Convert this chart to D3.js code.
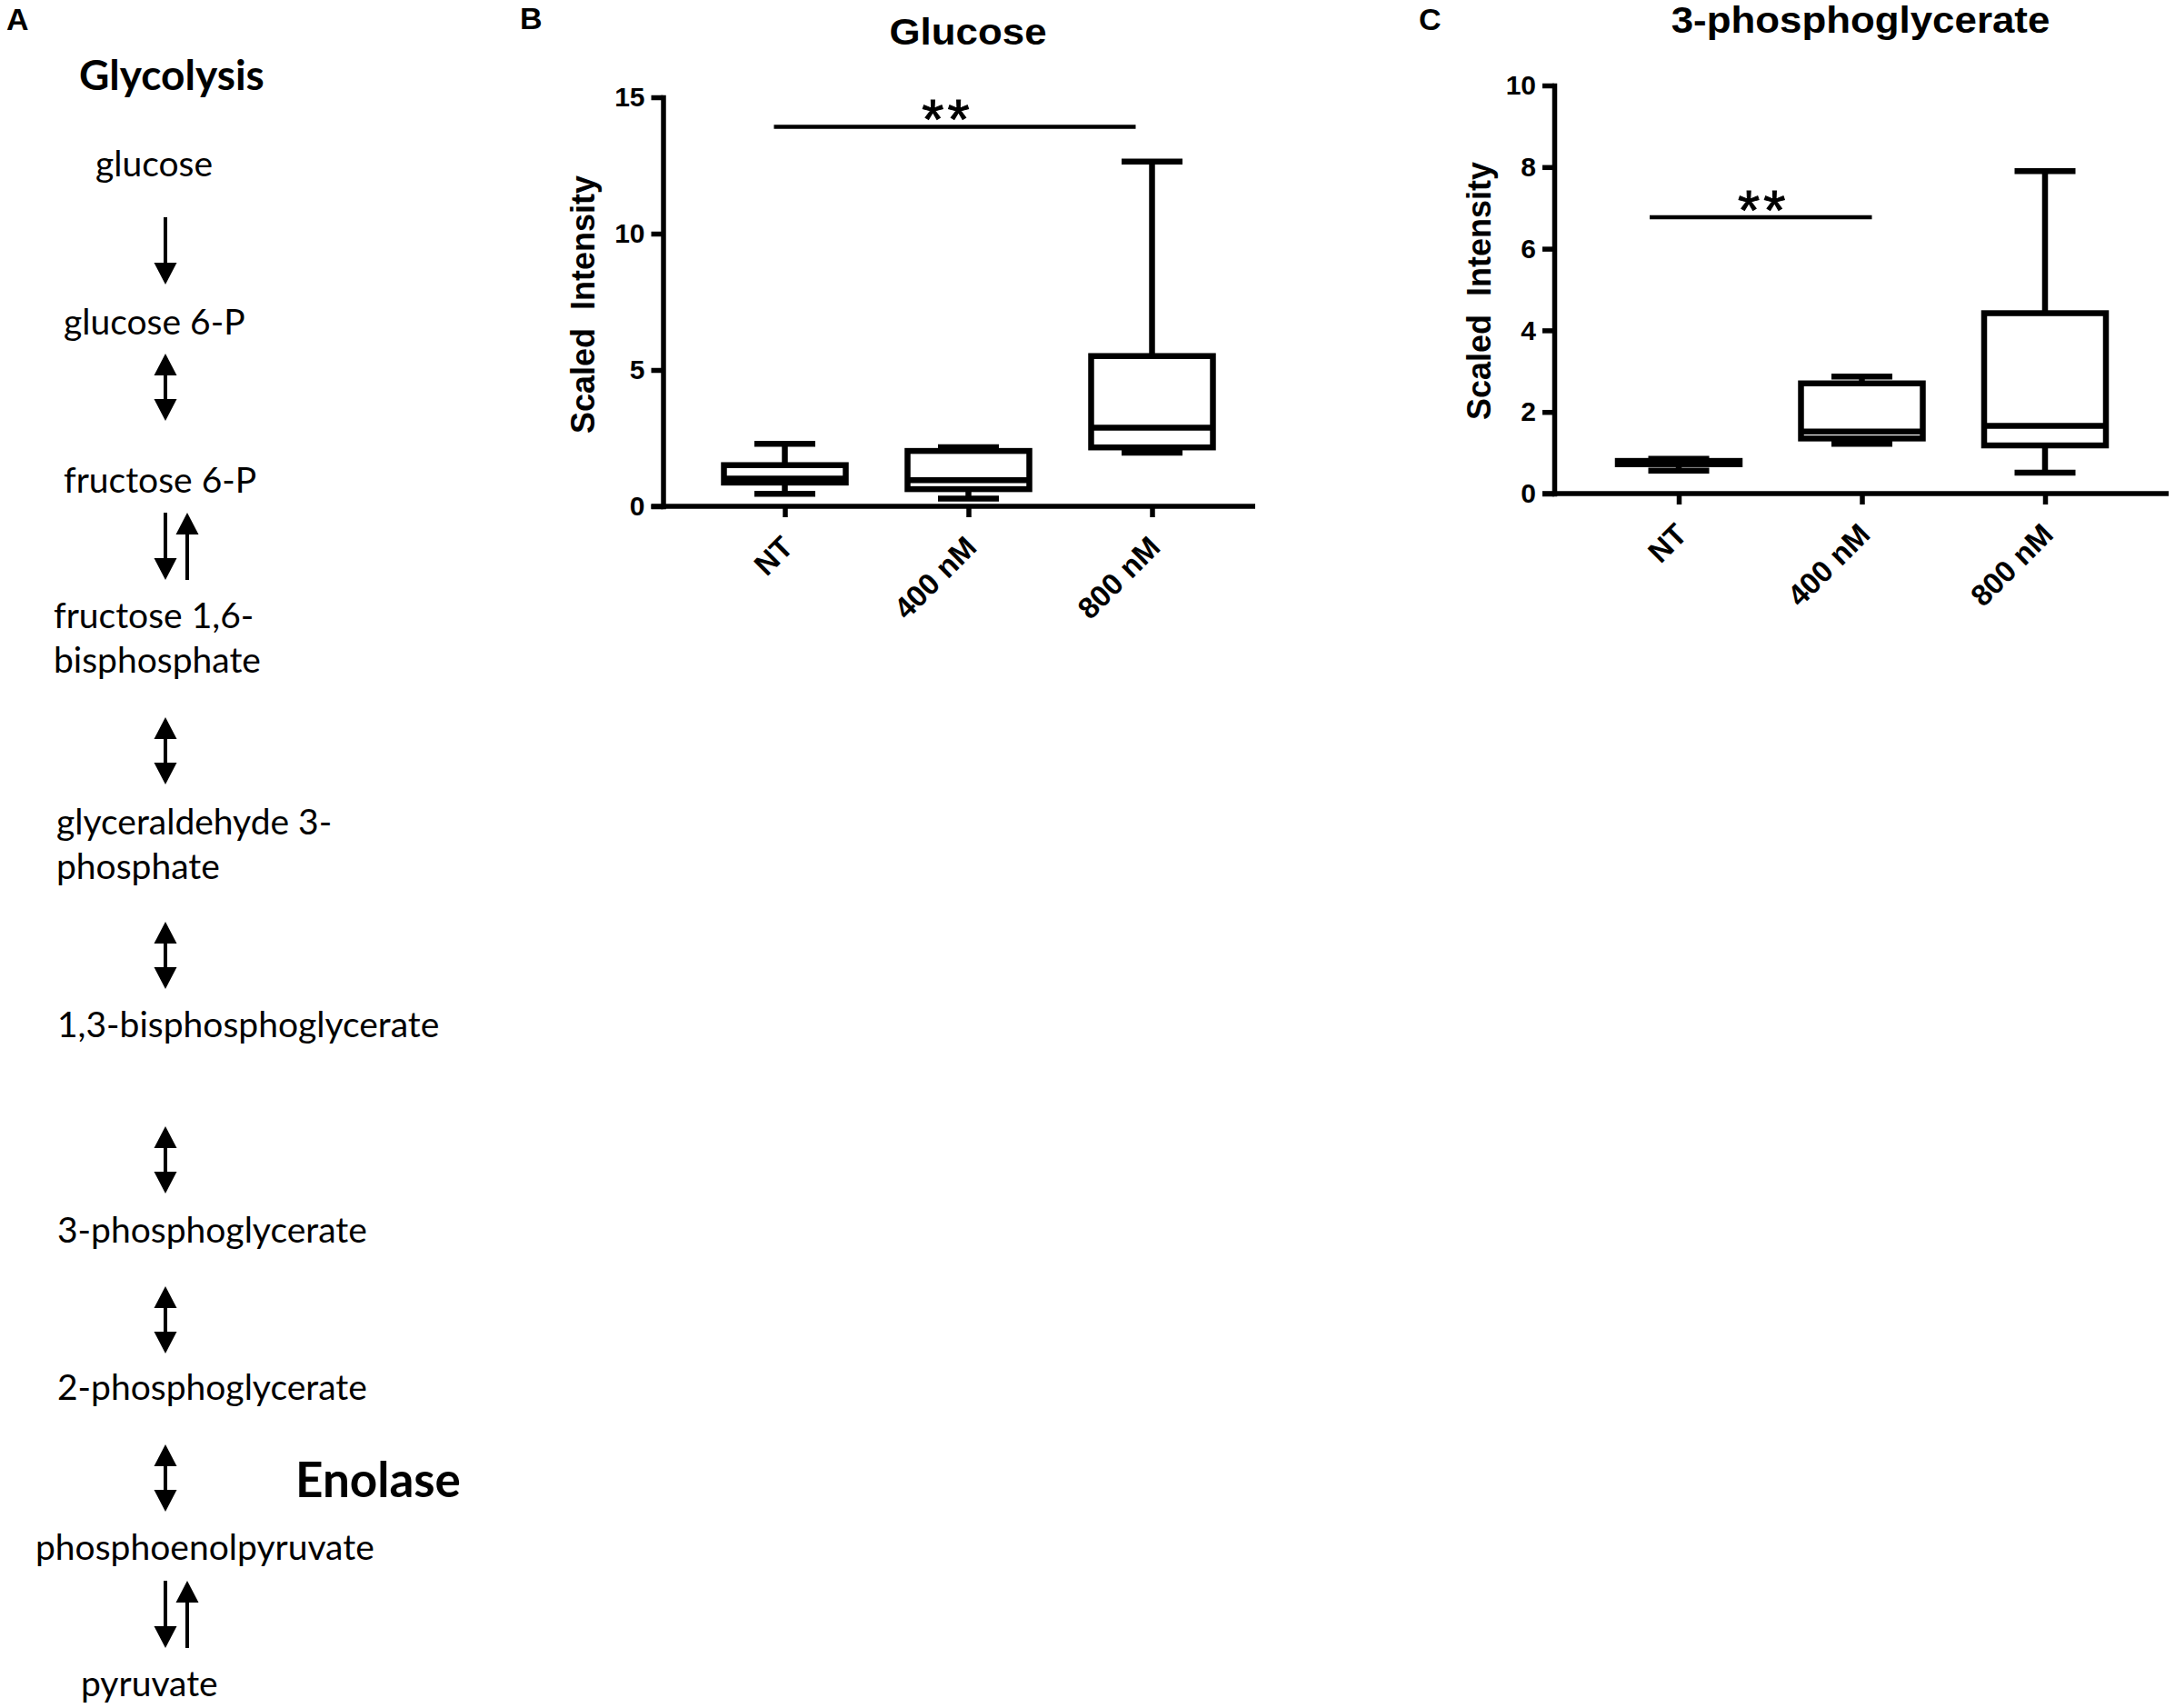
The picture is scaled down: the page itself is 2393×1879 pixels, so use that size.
<!DOCTYPE html>
<html><head><meta charset="utf-8">
<script src="https://cdn.jsdelivr.net/npm/d3@7"></script>
<style>html,body{margin:0;padding:0;background:#fff;overflow:hidden}</style>
</head><body>
<svg id="chart" width="2393" height="1879"></svg>
<script>
// ---------------- data ----------------
const categories = ["NT", "400 nM", "800 nM"];

// Panel B: Glucose (box-and-whisker summary, min..max)
const glucoseMin    = [0.46, 0.28, 1.97];
const glucoseQ1     = [0.87, 0.63, 2.16];
const glucoseMedian = [1.02, 0.96, 2.88];
const glucoseQ3     = [1.51, 2.03, 5.51];
const glucoseMax    = [2.29, 2.17, 12.64];
const glucoseTicks  = [0, 5, 10, 15];
const glucoseSig    = ["NT", "800 nM", 13.92, "**"];

// Panel C: 3-phosphoglycerate
const pgMin    = [0.56, 1.22, 0.51];
const pgQ1     = [0.72, 1.35, 1.18];
const pgMedian = [0.76, 1.52, 1.66];
const pgQ3     = [0.80, 2.70, 4.42];
const pgMax    = [0.85, 2.87, 7.90];
const pgTicks  = [0, 2, 4, 6, 8, 10];
const pgSig    = ["NT", "400 nM", 6.77, "**"];

// Panel A: glycolysis pathway
const metabolites = [
  ["glucose"], ["glucose 6-P"], ["fructose 6-P"], ["fructose 1,6-", "bisphosphate"],
  ["glyceraldehyde 3-", "phosphate"], ["1,3-bisphosphoglycerate"], ["3-phosphoglycerate"],
  ["2-phosphoglycerate"], ["phosphoenolpyruvate"], ["pyruvate"]
];
const reactionTypes = ["down", "both", "pair", "both", "both", "both", "both", "both", "pair"];

// ---------------- drawing ----------------
const svg = d3.select("#chart");
svg.append("rect").attr("width", 2393).attr("height", 1879).attr("fill", "#fff");
const ARIAL = "'Liberation Sans', Arial, Helvetica, sans-serif";
const CAL = "Lato, Carlito, Calibri, sans-serif";

// panel letters
[["A", 7, 33], ["B", 572, 32], ["C", 1561, 33]].forEach(([t, x, y]) => {
  svg.append("text").attr("x", x).attr("y", y).text(t)
    .attr("font-family", ARIAL).attr("font-weight", "bold").attr("font-size", 34);
});

function boxPanel(o) {
  const g = svg.append("g");
  const y = d3.scaleLinear().domain([0, o.ticks[o.ticks.length - 1]]).range([o.y0, o.yTop]);
  const x = d3.scalePoint().domain(categories).range([o.axisX + o.firstOff, o.axisX + o.firstOff + 2 * o.step]);
  const BW = 134, CW = 67, SW = 6.5;

  // y axis
  const ya = g.append("g").attr("transform", `translate(${o.axisX},0)`)
    .call(d3.axisLeft(y).tickValues(o.ticks).tickSize(13).tickSizeOuter(0).tickPadding(7).tickFormat(d3.format("d")));
  ya.select(".domain").attr("stroke", "#000").attr("stroke-width", 5.5).attr("stroke-linecap", "square");
  ya.selectAll(".tick line").attr("stroke", "#000").attr("stroke-width", 5.5);
  ya.selectAll(".tick text").attr("font-family", ARIAL).attr("font-weight", "bold")
    .attr("font-size", 30).attr("fill", "#000");

  // x axis
  const xa = g.append("g").attr("transform", `translate(0,${o.y0})`)
    .call(d3.axisBottom(x).tickSize(12).tickSizeOuter(0).tickFormat(""));
  xa.select(".domain").remove();
  xa.selectAll(".tick line").attr("stroke", "#000").attr("stroke-width", 5.5);
  g.append("line").attr("x1", o.axisX - 13).attr("x2", o.axisEnd)
    .attr("y1", o.y0).attr("y2", o.y0).attr("stroke", "#000").attr("stroke-width", 5.5);
  categories.forEach(c => {
    g.append("text").text(c)
      .attr("transform", `translate(${x(c) + 11},${o.y0 + 47}) rotate(-45)`)
      .attr("text-anchor", "end").attr("font-family", ARIAL).attr("font-weight", "bold")
      .attr("font-size", 33);
  });

  // boxes
  categories.forEach((c, i) => {
    const cx = x(c);
    const bg = g.append("g").attr("fill", "none").attr("stroke", "#000").attr("stroke-width", SW);
    bg.append("line").attr("x1", cx).attr("x2", cx).attr("y1", y(o.q3[i])).attr("y2", y(o.max[i]));
    bg.append("line").attr("x1", cx).attr("x2", cx).attr("y1", y(o.q1[i])).attr("y2", y(o.min[i]));
    bg.append("line").attr("x1", cx - CW / 2).attr("x2", cx + CW / 2).attr("y1", y(o.max[i])).attr("y2", y(o.max[i]));
    bg.append("line").attr("x1", cx - CW / 2).attr("x2", cx + CW / 2).attr("y1", y(o.min[i])).attr("y2", y(o.min[i]));
    bg.append("rect").attr("x", cx - BW / 2).attr("width", BW)
      .attr("y", y(o.q3[i])).attr("height", y(o.q1[i]) - y(o.q3[i])).attr("fill", "#fff");
    bg.append("line").attr("x1", cx - BW / 2).attr("x2", cx + BW / 2)
      .attr("y1", y(o.med[i])).attr("y2", y(o.med[i]));
  });

  // significance
  const [from, to, val, lab] = o.sig;
  const sy = y(val), sx1 = x(from) + o.sigOff[0], sx2 = x(to) + o.sigOff[1];
  g.append("line").attr("x1", sx1).attr("x2", sx2).attr("y1", sy).attr("y2", sy)
    .attr("stroke", "#000").attr("stroke-width", 4.5);
  g.append("text").text(lab).attr("x", (sx1 + sx2) / 2 + o.starDx).attr("y", sy - 22 + 35)
    .attr("text-anchor", "middle").attr("font-family", ARIAL).attr("font-size", 62)
    .attr("stroke", "#000").attr("stroke-width", 1).attr("letter-spacing", 4);

  // title (slightly wide, as in the reference)
  g.append("text").text(o.title)
    .attr("transform", `translate(${o.titleX},${o.titleY}) scale(1.07,1)`)
    .attr("text-anchor", "middle").attr("font-family", ARIAL).attr("font-weight", "bold").attr("font-size", 41);
  // y label
  g.append("text").text("Scaled  Intensity").style("white-space", "pre")
    .attr("transform", `translate(${o.ylabX},${o.ylabY}) rotate(-90)`)
    .attr("text-anchor", "middle").attr("font-family", ARIAL).attr("font-weight", "bold").attr("font-size", 36);
}

boxPanel({
  axisX: 729.5, axisEnd: 1381, y0: 557, yTop: 107, firstOff: 134, step: 202,
  ticks: glucoseTicks, min: glucoseMin, q1: glucoseQ1, med: glucoseMedian, q3: glucoseQ3, max: glucoseMax,
  sig: glucoseSig, sigOff: [-12, -18], starDx: -8,
  title: "Glucose", titleX: 1065, titleY: 49, ylabX: 654, ylabY: 335
});
boxPanel({
  axisX: 1710, axisEnd: 2386, y0: 543, yTop: 94, firstOff: 137, step: 201.5,
  ticks: pgTicks, min: pgMin, q1: pgQ1, med: pgMedian, q3: pgQ3, max: pgMax,
  sig: pgSig, sigOff: [-32, 11], starDx: 3,
  title: "3-phosphoglycerate", titleX: 2047, titleY: 36, ylabX: 1640, ylabY: 320
});

// ---------------- Panel A: pathway diagram ----------------
const A = svg.append("g");
A.append("text").text("Glycolysis").attr("x", 87).attr("y", 99)
  .attr("font-family", CAL).attr("font-weight", "bold").attr("font-size", 46);
A.append("text").text("Enolase").attr("x", 325).attr("y", 1647)
  .attr("font-family", CAL).attr("font-weight", "bold").attr("font-size", 53);

const textX = [105, 70, 70, 59, 62, 63, 63, 63, 39, 89];
const textBase = [194, 368, 542, 691, 918, 1141, 1367, 1540, 1716, 1866];
metabolites.forEach((lines, i) => {
  lines.forEach((ln, j) => {
    A.append("text").text(ln).attr("x", textX[i]).attr("y", textBase[i] + j * 48.5)
      .attr("font-family", CAL).attr("font-size", 39);
  });
});

const arrowTop = [239, 389, 564, 789, 1014, 1239, 1415, 1589, 1739];
const arrowLen = 74, AX = 182, AX2 = 206, HW = 12.5, HH = 24;
function head(x, tipY, dir) { // dir 1 = down, -1 = up
  A.append("path").attr("d", `M${x},${tipY} L${x - HW},${tipY - dir * HH} L${x + HW},${tipY - dir * HH} Z`).attr("fill", "#000");
}
function shaft(x, y1, y2) {
  A.append("line").attr("x1", x).attr("x2", x).attr("y1", y1).attr("y2", y2).attr("stroke", "#000").attr("stroke-width", 4);
}
reactionTypes.forEach((t, i) => {
  const t0 = arrowTop[i], t1 = t0 + arrowLen;
  if (t === "down") { shaft(AX, t0, t1 - HH + 2); head(AX, t1, 1); }
  else if (t === "both") { shaft(AX, t0 + HH - 2, t1 - HH + 2); head(AX, t0, -1); head(AX, t1, 1); }
  else { shaft(AX, t0, t1 - HH + 2); head(AX, t1, 1); shaft(AX2, t0 + HH - 2, t1); head(AX2, t0, -1); }
});
</script>
</body></html>
